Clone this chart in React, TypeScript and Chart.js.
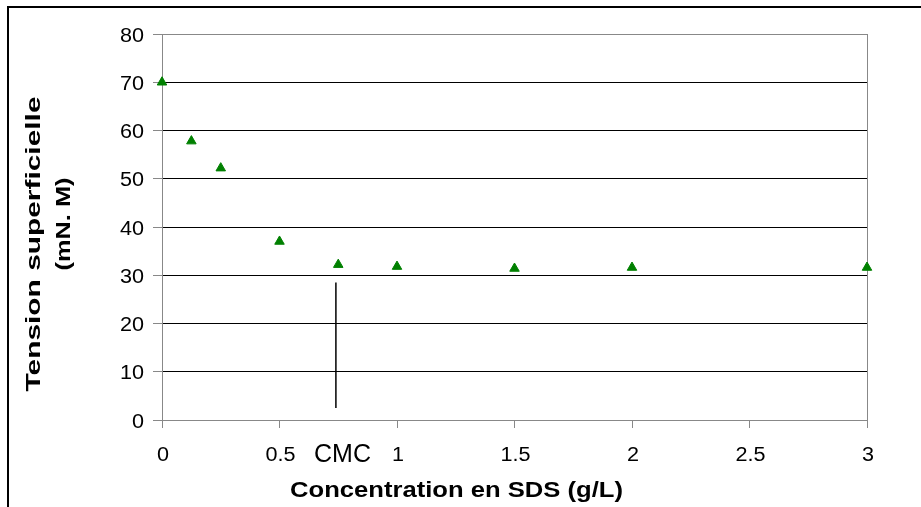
import { useEffect, useRef } from "react";
import Chart from "chart.js/auto";

// Data
const concentration = [0, 0.125, 0.25, 0.5, 0.75, 1, 1.5, 2, 3];
const tension = [70, 57.8, 52.2, 37.0, 32.2, 31.8, 31.4, 31.6, 31.6];

// CMC marker line (x in g/L, y in mN/m)
const cmcLineX = [0.74, 0.74];
const cmcLineY = [2.5, 28.5];
const cmcLabel = "CMC";
const cmcLabelAt = 0.768;

// Axes
const xMin = 0;
const xMax = 3;
const xStep = 0.5;
const yMin = 0;
const yMax = 80;
const yStep = 10;

const xTitle = "Concentration en SDS (g/L)";
const yTitleLines = ["Tension superficielle", "(mN. M)"];

const FONT = "'Liberation Sans', Arial, Helvetica, sans-serif";

function drawText(
  ctx: CanvasRenderingContext2D,
  text: string,
  x: number,
  y: number,
  font: string,
  align: CanvasTextAlign,
  baseline: CanvasTextBaseline,
  sx: number,
  targetWidth?: number
) {
  ctx.save();
  ctx.font = font;
  ctx.textAlign = align;
  ctx.textBaseline = baseline;
  let s = sx;
  if (targetWidth) s = targetWidth / ctx.measureText(text).width;
  ctx.translate(x, y);
  ctx.scale(s, 1);
  ctx.fillText(text, 0, 0);
  ctx.restore();
}

export default function App() {
  const ref = useRef<HTMLCanvasElement | null>(null);

  useEffect(() => {
    if (!ref.current) return;

    const annotations = {
      id: "annotations",
      afterDraw(chart: any) {
        const ctx: CanvasRenderingContext2D = chart.ctx;
        const xs = chart.scales.x;
        const ys = chart.scales.y;
        const area = chart.chartArea;
        ctx.save();
        ctx.fillStyle = "#000";
        const tickFont = `20px ${FONT}`;
        // y tick labels
        ys.ticks.forEach((t: any) => {
          drawText(ctx, String(t.value), area.left - 18, ys.getPixelForValue(t.value) + 2, tickFont, "right", "middle", 1.08);
        });
        // x tick labels
        xs.ticks.forEach((t: any) => {
          drawText(ctx, String(t.value), xs.getPixelForValue(t.value) + 1, area.bottom + 41, tickFont, "center", "alphabetic", 1.08);
        });
        // CMC label
        drawText(ctx, cmcLabel, xs.getPixelForValue(cmcLabelAt), area.bottom + 42, `25px ${FONT}`, "center", "alphabetic", 1);
        // X title
        drawText(ctx, xTitle, 456.5, area.bottom + 77, `bold 22px ${FONT}`, "center", "alphabetic", 1, 333);
        // Y title (rotated)
        ctx.save();
        ctx.translate(39.5, 244);
        ctx.rotate(-Math.PI / 2);
        drawText(ctx, yTitleLines[0], 0, 0, `bold 20px ${FONT}`, "center", "alphabetic", 1, 295);
        ctx.restore();
        ctx.save();
        ctx.translate(69.5, 224);
        ctx.rotate(-Math.PI / 2);
        drawText(ctx, yTitleLines[1], 0, 0, `bold 20px ${FONT}`, "center", "alphabetic", 1, 93);
        ctx.restore();
        ctx.restore();
      },
    };

    const chart = new Chart(ref.current, {
      type: "scatter",
      data: {
        datasets: [
          {
            label: "Tension",
            data: concentration.map((c, i) => ({ x: c, y: tension[i] })),
            pointStyle: "triangle",
            pointRadius: 5.5,
            pointBackgroundColor: "#008000",
            pointBorderColor: "#008000",
            pointBorderWidth: 1,
            showLine: false,
            clip: false,
          } as any,
          {
            label: "CMC",
            type: "line",
            data: cmcLineX.map((c, i) => ({ x: c, y: cmcLineY[i] })),
            borderColor: "#000",
            borderWidth: 1.5,
            pointRadius: 0,
            showLine: true,
          } as any,
        ],
      },
      options: {
        responsive: false,
        animation: false,
        events: [],
        layout: { padding: { top: 34, right: 54, left: 0, bottom: 0 } },
        plugins: { legend: { display: false }, tooltip: { enabled: false } },
        scales: {
          x: {
            type: "linear",
            min: xMin,
            max: xMax,
            afterFit: (s: any) => {
              s.height = 87;
            },
            ticks: { stepSize: xStep, display: false },
            grid: {
              color: (c: any) => (c.tick && c.tick.value === xMax ? "#888" : "rgba(0,0,0,0)"),
              tickColor: "#888",
              tickLength: 8,
              drawTicks: true,
            },
            border: { color: "#888", width: 1 },
          },
          y: {
            min: yMin,
            max: yMax,
            afterFit: (s: any) => {
              s.width = 162;
            },
            ticks: { stepSize: yStep, display: false },
            grid: {
              color: (c: any) =>
                c.tick && c.tick.value === yMax ? "#888" : c.tick && c.tick.value === yMin ? "rgba(0,0,0,0)" : "#000",
              tickColor: "#888",
              tickLength: 9,
              drawTicks: true,
            },
            border: { color: "#888", width: 1 },
          },
        },
      },
      plugins: [annotations],
    });
    return () => chart.destroy();
  }, []);

  return (
    <div
      style={{
        position: "fixed",
        left: 0,
        top: 0,
        width: 921,
        height: 507,
        overflow: "hidden",
        background: "#fff",
      }}
    >
      <div
        style={{
          position: "absolute",
          left: 7,
          top: 6,
          width: 1000,
          height: 1000,
          border: "2px solid #000",
        }}
      />
      <canvas ref={ref} width={921} height={507} style={{ position: "absolute", left: 0, top: 0 }} />
    </div>
  );
}
